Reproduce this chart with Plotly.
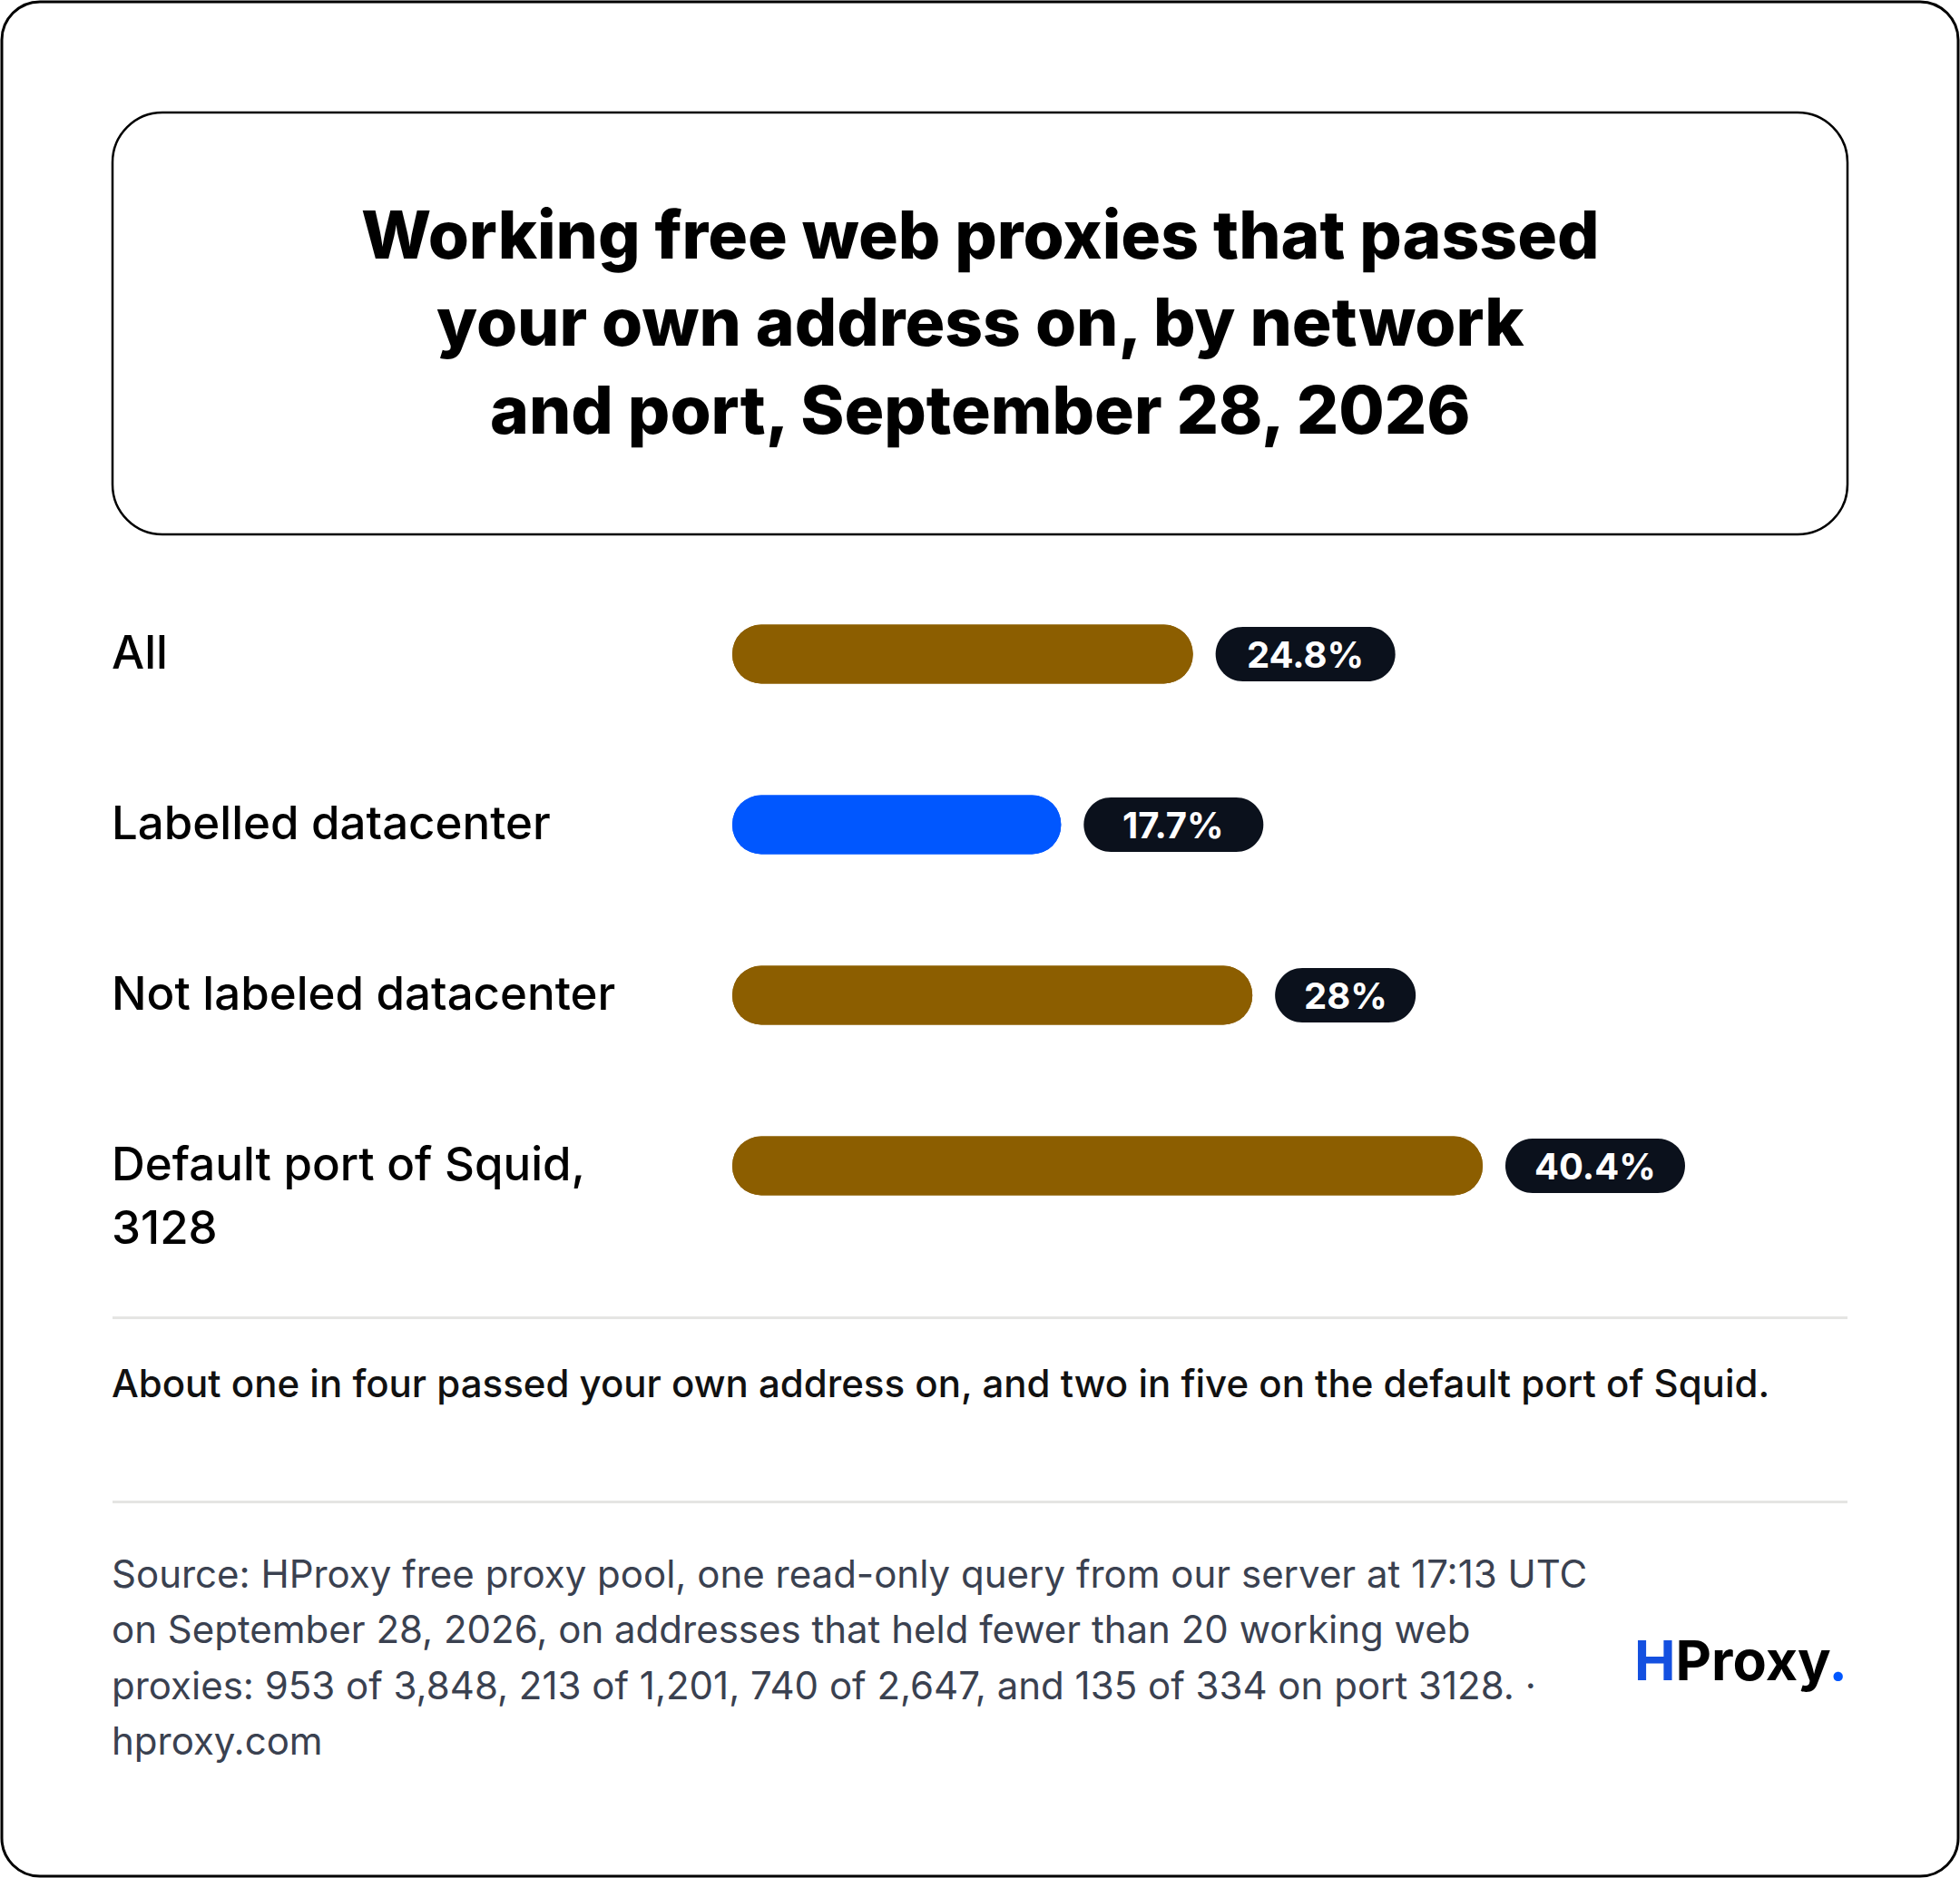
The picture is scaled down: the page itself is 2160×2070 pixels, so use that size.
import plotly.graph_objects as go

# ---------------- data ----------------
categories = ["All", "Labelled datacenter", "Not labeled datacenter", "Default port of Squid,\n3128"]
values = [24.8, 17.7, 28.0, 40.4]
bar_colors = ["#8C5E00", "#0057FF", "#8C5E00", "#8C5E00"]

title_lines = [
    "Working free web proxies that passed",
    "your own address on, by network",
    "and port, September 28, 2026",
]
subtitle = "About one in four passed your own address on, and two in five on the default port of Squid."
source_lines = [
    "Source: HProxy free proxy pool, one read-only query from our server at 17:13 UTC",
    "on September 28, 2026, on addresses that held fewer than 20 working web",
    "proxies: 953 of 3,848, 213 of 1,201, 740 of 2,647, and 135 of 334 on port 3128. \u00b7",
    "hproxy.com",
]

# ---------------- geometry helpers ----------------
W, H = 2160, 2070
FONT = "Inter, 'Noto Sans', sans-serif"


def px(x):
    return x / W


def py(y):
    return 1 - y / H


def rrect_path(x0, y0, x1, y1, r):
    k = 0.5523 * r
    return (
        f"M{px(x0 + r)},{py(y0)} L{px(x1 - r)},{py(y0)} "
        f"C{px(x1 - r + k)},{py(y0)} {px(x1)},{py(y0 + r - k)} {px(x1)},{py(y0 + r)} "
        f"L{px(x1)},{py(y1 - r)} "
        f"C{px(x1)},{py(y1 - r + k)} {px(x1 - r + k)},{py(y1)} {px(x1 - r)},{py(y1)} "
        f"L{px(x0 + r)},{py(y1)} "
        f"C{px(x0 + r - k)},{py(y1)} {px(x0)},{py(y1 - r + k)} {px(x0)},{py(y1 - r)} "
        f"L{px(x0)},{py(y0 + r)} "
        f"C{px(x0)},{py(y0 + r - k)} {px(x0 + r - k)},{py(y0)} {px(x0 + r)},{py(y0)} Z"
    )


def pill_path(x0, x1, r):
    k = 0.5523 * r
    return (
        f"M{x0 + r},{-r} L{x1 - r},{-r} "
        f"C{x1 - r + k},{-r} {x1},{-k} {x1},0 "
        f"C{x1},{k} {x1 - r + k},{r} {x1 - r},{r} "
        f"L{x0 + r},{r} "
        f"C{x0 + r - k},{r} {x0},{k} {x0},0 "
        f"C{x0},{-k} {x0 + r - k},{-r} {x0 + r},{-r} Z"
    )


# plot area placement (pixels)
X0_PX, X1_PX = 807, 2036
PX_PER_UNIT = 20.47
ROW_PX = 188
TOP_ROW_PX = 721
n = len(categories)
y_top_px = TOP_ROW_PX - ROW_PX / 2
y_bot_px = TOP_ROW_PX + ROW_PX * (n - 0.5)
BAR_PX = 65

y_idx = list(range(n))

fig = go.Figure()
# bar body rounded at the value end
fig.add_trace(go.Bar(
    x=values, y=y_idx, base=[0] * n, orientation="h",
    width=BAR_PX / ROW_PX,
    marker=dict(color=bar_colors, cornerradius="50%", line=dict(width=0)),
    hoverinfo="skip",
))
# same bar drawn back from the value end to the rounded zero end
fig.add_trace(go.Bar(
    x=[-v for v in values], y=y_idx, base=values, orientation="h",
    width=BAR_PX / ROW_PX,
    marker=dict(color=bar_colors, cornerradius="50%", line=dict(width=0)),
    hoverinfo="skip",
))

shapes = []
annotations = []

# outer card
shapes.append(dict(type="path", xref="paper", yref="paper",
                   path=rrect_path(2, 2, 2158, 2068, 42),
                   line=dict(color="#000000", width=3), fillcolor="rgba(0,0,0,0)", layer="below"))
# title box
shapes.append(dict(type="path", xref="paper", yref="paper",
                   path=rrect_path(124, 124, 2036, 589, 55),
                   line=dict(color="#000000", width=2.5), fillcolor="rgba(0,0,0,0)", layer="below"))
# dividers
for yy in (1452.5, 1655.5):
    shapes.append(dict(type="line", xref="paper", yref="paper",
                       x0=px(124), x1=px(2036), y0=py(yy), y1=py(yy),
                       line=dict(color="#E5E5E3", width=3)))

# title
for j, line in enumerate(title_lines):
    annotations.append(dict(xref="paper", yref="paper", x=px(1080), y=py(258 + 97 * j),
                            text=line, showarrow=False, xanchor="center", yanchor="middle",
                            font=dict(family=FONT, size=73, color="#000000", weight=800)))

# category labels
for i, lab in enumerate(categories):
    for j, part in enumerate(lab.split("\n")):
        annotations.append(dict(xref="paper", yref="y", x=px(121), y=i, yshift=3 - 70 * j,
                                text=part, showarrow=False, xanchor="left", yanchor="middle",
                                font=dict(family=FONT, size=51, color="#000000", weight=500)))

# value pills
GAP = 25
PAD = 33
for i, v in enumerate(values):
    txt = f"{v:g}%"
    nd = sum(c.isdigit() for c in txt)
    tw = 29 * nd + 14 * txt.count(".") + 31 * txt.count("%")
    w = tw + 2 * PAD
    shapes.append(dict(type="path", xref="x", yref="y", xsizemode="pixel", ysizemode="pixel",
                       xanchor=v, yanchor=i, path=pill_path(GAP, GAP + w, 30),
                       line=dict(width=0), fillcolor="#0B111C", layer="above"))
    annotations.append(dict(xref="x", yref="y", x=v, y=i, xshift=GAP + w / 2,
                            text=txt, showarrow=False, xanchor="center", yanchor="middle",
                            font=dict(family=FONT, size=40, color="#FFFFFF", weight=700)))

# subtitle
annotations.append(dict(xref="paper", yref="paper", x=px(121), y=py(1524),
                        text=subtitle, showarrow=False, xanchor="left", yanchor="middle",
                        font=dict(family=FONT, size=42, color="#111111", weight=500)))

# source
for j, line in enumerate(source_lines):
    annotations.append(dict(xref="paper", yref="paper", x=px(121), y=py(1734 + 61.5 * j),
                            text=line, showarrow=False, xanchor="left", yanchor="middle",
                            font=dict(family=FONT, size=42, color="#3A4150", weight=400)))

# logo
annotations.append(dict(xref="paper", yref="paper", x=px(2038), y=py(1830),
                        text="<span style='color:#1450E0'>H</span>Proxy<span style='color:#0057FF'>.</span>",
                        showarrow=False, xanchor="right", yanchor="middle",
                        font=dict(family=FONT, size=61, color="#000000", weight=700)))

fig.update_layout(
    width=W, height=H,
    margin=dict(l=0, r=0, t=0, b=0),
    paper_bgcolor="#FFFFFF", plot_bgcolor="rgba(0,0,0,0)",
    barmode="overlay", showlegend=False,
    xaxis=dict(domain=[px(X0_PX), px(X1_PX)], range=[0, (X1_PX - X0_PX) / PX_PER_UNIT],
               showgrid=False, zeroline=False, showticklabels=False, showline=False, fixedrange=True),
    yaxis=dict(domain=[py(y_bot_px), py(y_top_px)], range=[n - 0.5, -0.5],
               showgrid=False, zeroline=False, showticklabels=False, showline=False, fixedrange=True),
    shapes=shapes, annotations=annotations,
)

fig.write_html("out.html")
